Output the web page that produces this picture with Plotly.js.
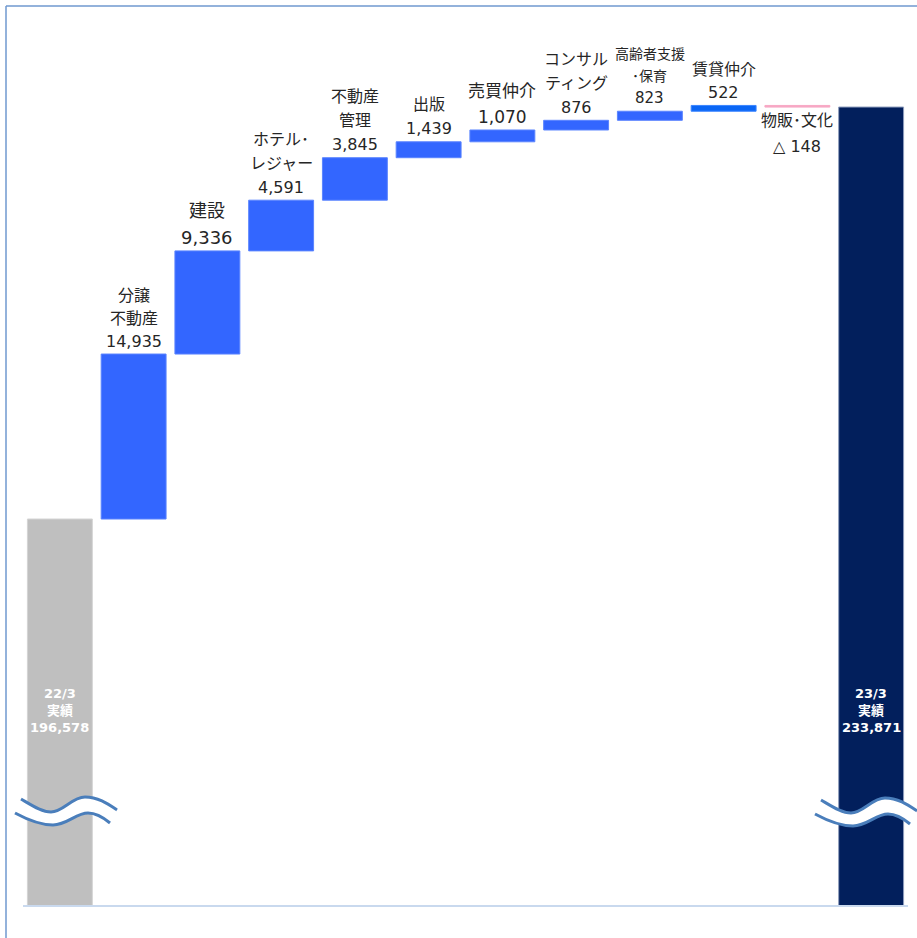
<!DOCTYPE html>
<html>
<head>
<meta charset="utf-8">
<script src="https://cdn.plot.ly/plotly-3.0.1.min.js"></script>
<style>html,body{margin:0;padding:0;background:#fff;}#chart{width:917px;height:938px;}</style>
</head>
<body>
<div id="chart"></div>
<script>
// ---- data ----
const categories = ["22/3実績","分譲不動産","建設","ホテル・レジャー","不動産管理","出版","売買仲介","コンサルティング","高齢者支援・保育","賃貸仲介","物販・文化","23/3実績"];
const startLabel = ["22/3","実績"];
const endLabel = ["23/3","実績"];
const startValue = 196578;
const endValue = 233871;
const changes = [14935, 9336, 4591, 3845, 1439, 1070, 876, 823, 522, -148];
const changeNames = [["分譲","不動産"],["建設"],["ホテル･","レジャー"],["不動産","管理"],["出版"],["売買仲介"],["コンサル","ティング"],["高齢者支援","･保育"],["賃貸仲介"],["物販･文化"]];

// ---- style ----
const nameFont = [16,18,16,16,16,17,16,14,16,16];
const valFont  = [16,18,16,16,16,17,16,15,16,16];
const lineGap  = [23,27,24,24,24,26,24,22,23,26];
const colors = ["#bfbfbf","#3366ff","#3366ff","#3366ff","#3366ff","#3366ff","#3366ff","#3366ff","#3366ff","#0a66f5","#f7a8c4","#021f5c"];
const edge   = ["#d4d4d4","#5a84ff","#5a84ff","#5a84ff","#5a84ff","#5a84ff","#5a84ff","#5a84ff","#5a84ff","#3a84ff","#f7a8c4","#8e9cbc"];
const FONT = "DejaVu Sans, Noto Sans CJK JP, sans-serif";

const fmt = v => Math.abs(v).toLocaleString("en-US");

// bars
const ys = [startValue], bases = [0];
let cum = startValue;
changes.forEach(c => { ys.push(c); bases.push(cum); cum += c; });
ys.push(endValue); bases.push(0);

const trace = {
  type: "bar", x: categories, y: ys, base: bases,
  marker: {color: colors, line: {color: edge, width: 1}},
  hoverinfo: "skip"
};

// pixel -> paper helpers for decorations
const L = 23, T = 10, W = 885, H = 895;
const px = x => (x - L) / W;
const py = y => (T + H - y) / H;

const annotations = [];
// change labels
let c2 = startValue;
changes.forEach((c, i) => {
  const top = c >= 0 ? c2 + c : c2;
  const bottom = c >= 0 ? c2 : c2 + c;
  const cat = categories[i + 1];
  const lines = changeNames[i].slice();
  const valText = c >= 0 ? fmt(c) : "△ " + fmt(c);
  if (c >= 0) {
    const all = lines.concat([valText]);
    all.forEach((t, k) => {
      const isVal = k === all.length - 1;
      const shift = 13 + (all.length - 1 - k) * lineGap[i];
      annotations.push({x: cat, y: top, xref: "x", yref: "y", text: t, showarrow: false,
        yanchor: "middle", yshift: shift,
        font: {family: FONT, size: isVal ? valFont[i] : nameFont[i], color: "#262626"}});
    });
  } else {
    const all = lines.concat([valText]);
    all.forEach((t, k) => {
      const shift = -(13 + k * lineGap[i]);
      annotations.push({x: cat, y: bottom, xref: "x", yref: "y", text: t, showarrow: false,
        yanchor: "middle", yshift: shift,
        font: {family: FONT, size: 16, color: "#262626"}});
    });
  }
  c2 += c;
});
// totals labels inside bars
[[categories[0], startLabel, startValue], [categories[11], endLabel, endValue]].forEach(([cat, lab, v]) => {
  const all = lab.concat([fmt(v)]);
  all.forEach((t, k) => {
    annotations.push({x: cat, y: py(693 + k * 17), xref: "x", yref: "paper", text: "<b>" + t + "</b>",
      showarrow: false, yanchor: "middle",
      font: {family: FONT, size: 13, color: "#ffffff"}});
  });
});

// wave break decorations
function wave(dx, dy) {
  const P = (x, y) => px(x + dx) + "," + py(y + dy);
  const upper = `M${P(21,799)} C${P(33,806)} ${P(42,812)} ${P(51,812)} C${P(63,812)} ${P(72,797)} ${P(85,797)} C${P(98,797)} ${P(108,804)} ${P(117,810)}`;
  const lower = `M${P(15,813)} C${P(28,820)} ${P(40,825)} ${P(53,825)} C${P(67,825)} ${P(76,813)} ${P(88,813)} C${P(97,813)} ${P(104,818)} ${P(110,823)}`;
  const band = upper + ` L${P(110,823)} C${P(104,818)} ${P(97,813)} ${P(88,813)} C${P(76,813)} ${P(67,825)} ${P(53,825)} C${P(40,825)} ${P(28,820)} ${P(15,813)} Z`;
  return [
    {type: "path", xref: "paper", yref: "paper", path: band, fillcolor: "#ffffff", line: {width: 0}, layer: "above"},
    {type: "path", xref: "paper", yref: "paper", path: upper, line: {color: "#4a7ebb", width: 3}, layer: "above"},
    {type: "path", xref: "paper", yref: "paper", path: lower, line: {color: "#4a7ebb", width: 3}, layer: "above"}
  ];
}
const shapes = [
  {type: "line", xref: "paper", yref: "paper", x0: px(6), x1: px(917), y0: py(6), y1: py(6), line: {color: "#6f98cf", width: 1.5}},
  {type: "line", xref: "paper", yref: "paper", x0: px(6), x1: px(6), y0: py(6), y1: py(938), line: {color: "#6f98cf", width: 1.5}}
].concat(wave(0, 0), wave(800, 1));

const layout = {
  width: 917, height: 938,
  margin: {l: L, r: 917 - L - W, t: T, b: 938 - T - H, pad: 0},
  paper_bgcolor: "#ffffff", plot_bgcolor: "#ffffff",
  showlegend: false, bargap: 0.12,
  xaxis: {type: "category", showticklabels: false, ticks: "", showgrid: false, zeroline: false,
          showline: true, linecolor: "#c9d9ee", linewidth: 2},
  yaxis: {range: [161640, 161640 + 895 * 90.52], visible: false, showgrid: false, zeroline: false},
  annotations: annotations, shapes: shapes
};
Plotly.newPlot("chart", [trace], layout, {displayModeBar: false, staticPlot: true});
</script>
</body>
</html>
